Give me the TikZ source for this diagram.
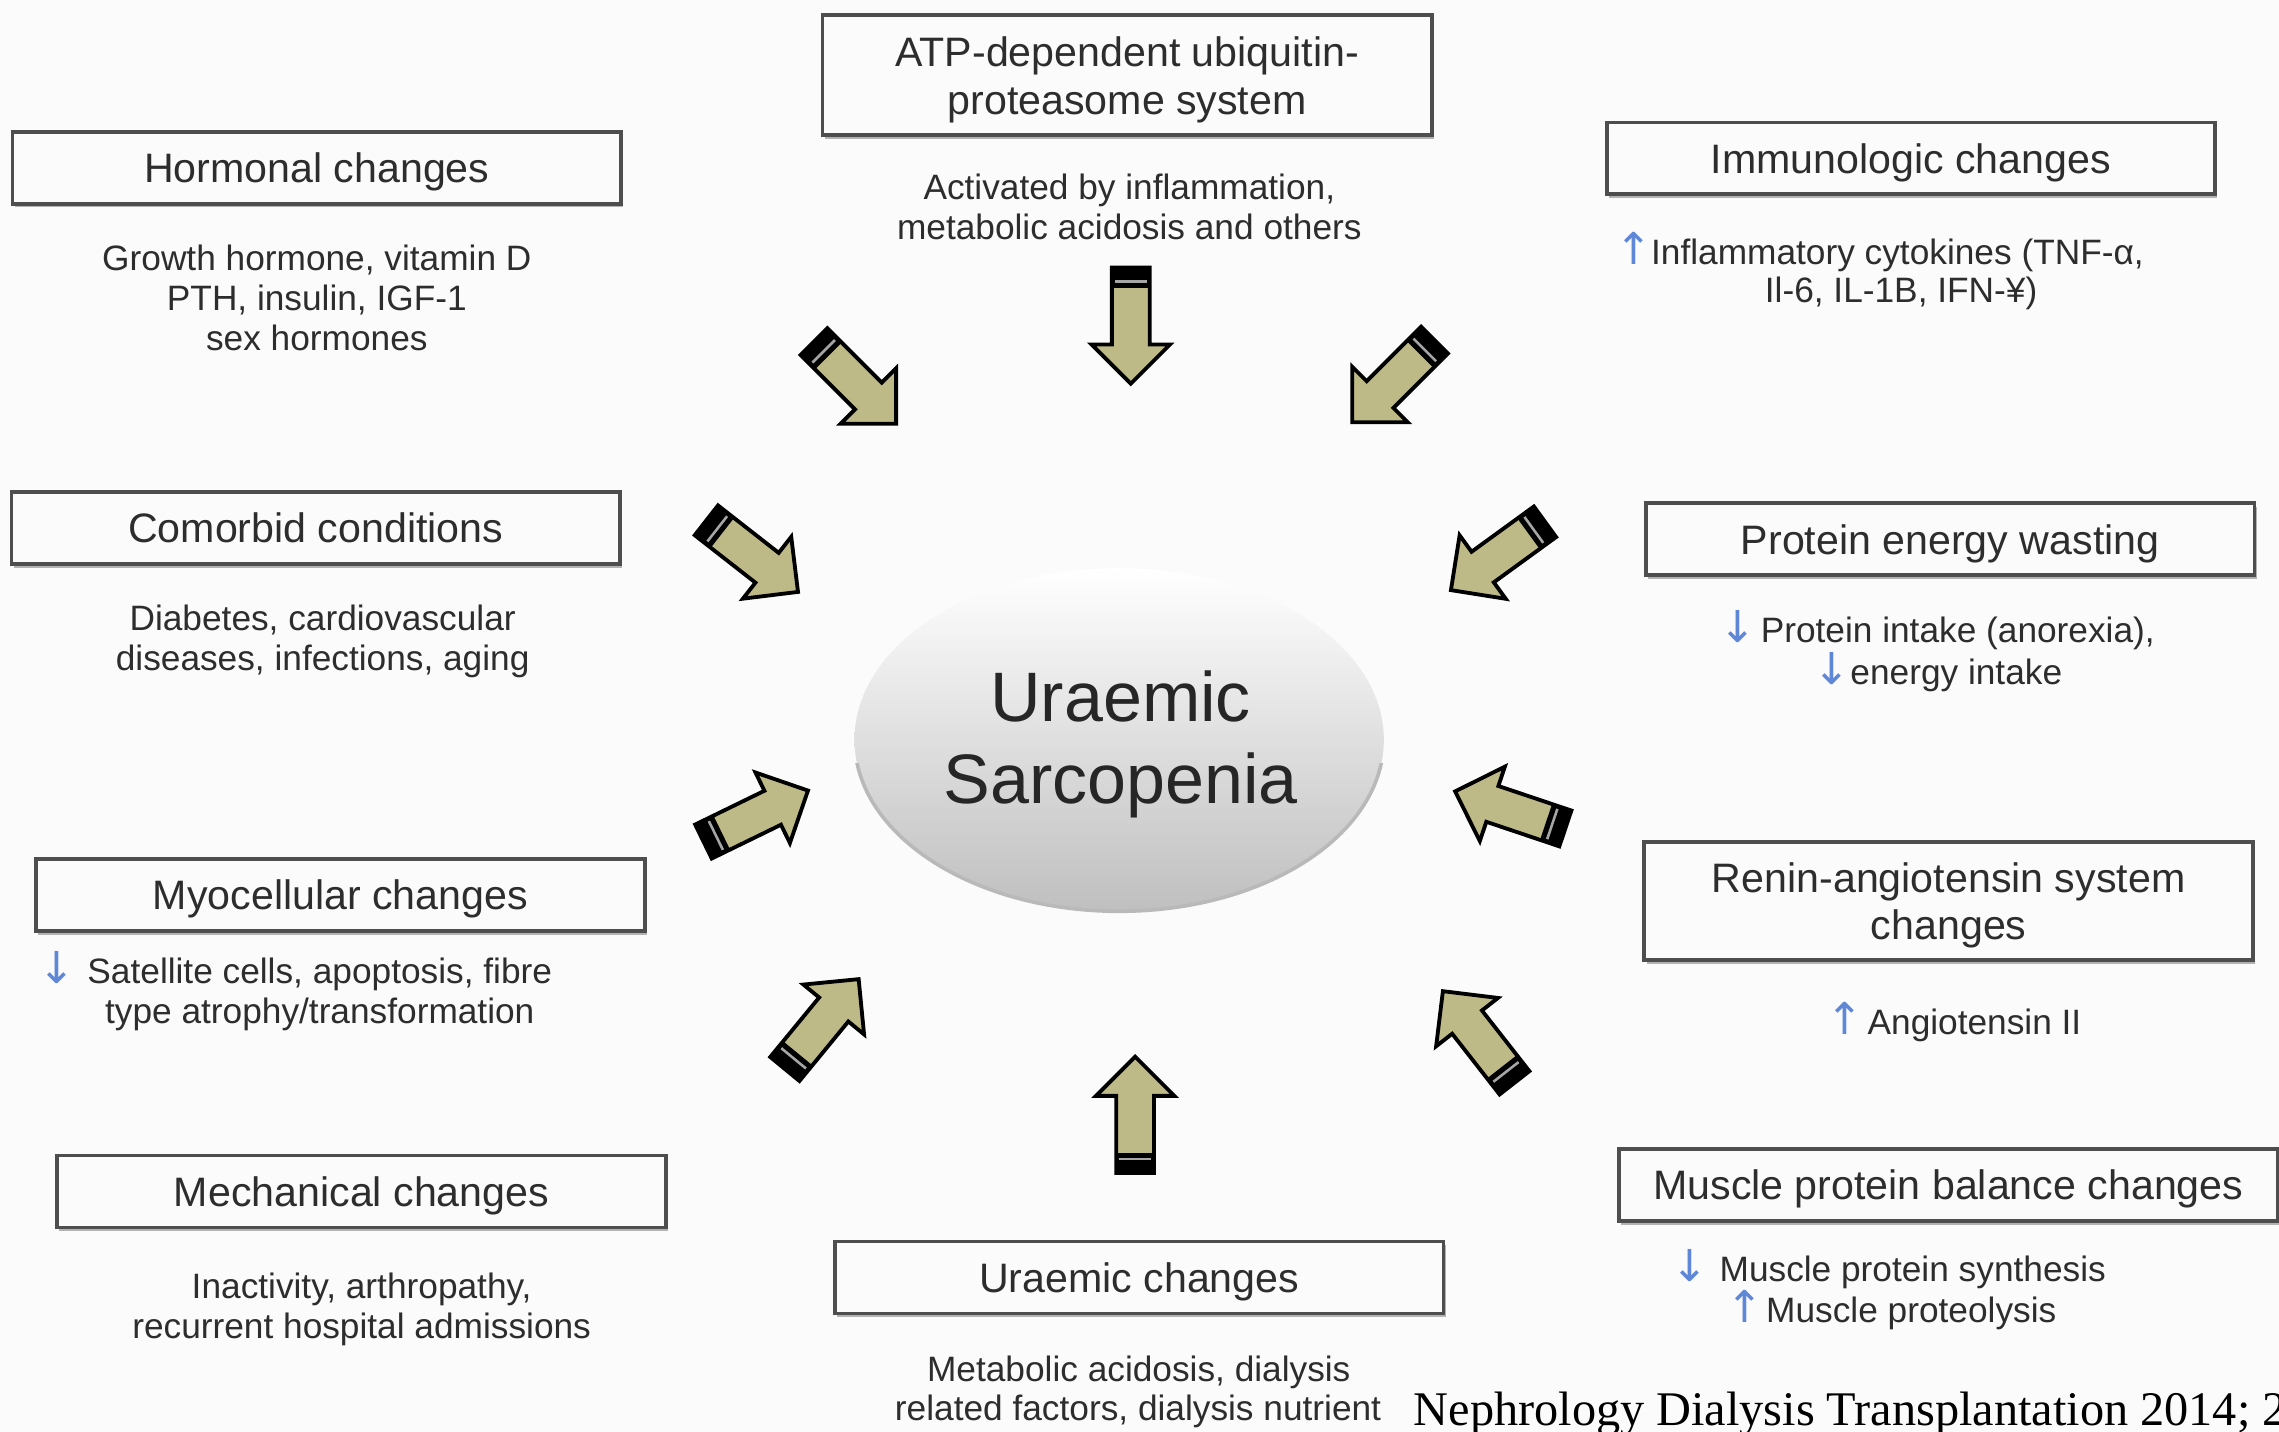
\documentclass[tikz,border=0pt]{standalone}
\usepackage{fontspec}
\setmainfont{Liberation Sans}
\newfontfamily\citefont{Liberation Serif}
\newfontfamily\symfont{DejaVu Sans}
\usetikzlibrary{shapes.geometric,shadows}
\definecolor{bgcol}{RGB}{251,251,252}
\definecolor{khaki}{RGB}{190,186,136}
\definecolor{boxline}{RGB}{78,78,78}
\definecolor{txt}{RGB}{45,45,45}
\definecolor{upblue}{RGB}{95,135,215}
\newcommand{\ttlfont}{\fontsize{8.05}{9.35}\selectfont}
\newcommand{\dscfont}{\fontsize{6.9}{8}\selectfont}
\begin{document}
\begin{tikzpicture}[x=0.01cm, y=-0.01cm,
  box/.style={draw=boxline, line width=0.75pt, fill=bgcol, minimum width=4.185cm,
    minimum height=0.495cm, inner sep=0pt, align=center, font=\ttlfont, text=txt,
    text depth=0pt,
    drop shadow={shadow xshift=0.15mm, shadow yshift=-0.25mm, fill=gray!60, opacity=1}},
  desc/.style={anchor=base, font=\dscfont, text=txt, inner sep=0pt},
  sym/.style={anchor=base, font=\symfont\fontsize{8.6}{9}\selectfont, text=upblue, inner sep=0pt},
  barrow/.pic={
    \fill[khaki] (0,-13) -- (53,-13) -- (53,-27) -- (80,0) -- (53,27) -- (53,13) -- (0,13) -- cycle;
    \fill[black] (0,-13) rectangle (14,13);
    \draw[gray!70, line width=0.5pt] (9.5,-11) -- (9.5,11);
    \draw[black, line width=0.75pt, line join=miter]
      (0,-13) -- (53,-13) -- (53,-27) -- (80,0) -- (53,27) -- (53,13) -- (0,13) -- cycle;
  }]
\useasboundingbox (0,0) rectangle (1568,985);
\fill[bgcol] (0,0) rectangle (1568,985);
\begin{scope}
\clip (0,0) rectangle (1568,985);

% central ellipse
\node[ellipse, minimum width=3.64cm, minimum height=2.36cm, inner sep=0pt,
  top color=white, middle color=gray!12, bottom color=gray!50] (core) at (770,509) {};
\begin{scope}
  \clip (560,525) rectangle (980,640);
  \draw[gray!55, line width=0.7pt] (770,509) ellipse [x radius=182, y radius=118];
\end{scope}
\node[font=\fontsize{13.7}{16}\selectfont, align=center, text=black!85, inner sep=0pt]
  (coretxt) at (771,512) {Uraemic\\Sarcopenia};

% boxes
\node[box] (hormonal) at (218,115.5) {Hormonal changes};
\node[box, minimum width=4.19cm, minimum height=0.825cm] (ups) at (775.5,51.75)
  {ATP-dependent ubiquitin-\\proteasome system};
\node[box] (immuno) at (1314.75,109) {Immunologic changes};
\node[box] (comorbid) at (217.25,363.25) {Comorbid conditions};
\node[box] (pew) at (1341.75,371) {Protein energy wasting};
\node[box] (myo) at (234.25,615.75) {Myocellular changes};
\node[box, minimum height=0.81cm] (ras) at (1340.75,620) {Renin-angiotensin system\\changes};
\node[box] (mech) at (248.75,819.75) {Mechanical changes};
\node[box, minimum width=4.53cm] (mpb) at (1340.5,815.25) {Muscle protein balance changes};
\node[box] (uraemic) at (783.75,879) {Uraemic changes};

% descriptions
\node[desc] (hd1) at (218,186) {Growth hormone, vitamin D};
\node[desc] (hd2) at (218,213.5) {PTH, insulin, IGF-1};
\node[desc] (hd3) at (218,241) {sex hormones};

\node[desc] (ud1) at (777,137) {Activated by inflammation,};
\node[desc] (ud2) at (777,165) {metabolic acidosis and others};

\node[sym] (ia1) at (1124,182) {↑};
\node[desc] (id1) at (1305.5,182) {Inflammatory cytokines (TNF-α,};
\node[desc] (id2) at (1308,208) {Il-6, IL-1B, IFN-¥)};

\node[desc] (cd1) at (222,434) {Diabetes, cardiovascular};
\node[desc] (cd2) at (222,461.5) {diseases, infections, aging};

\node[sym] (pa1) at (1196,442) {↓};
\node[desc] (pd1) at (1347,442) {Protein intake (anorexia),};
\node[sym] (pa2) at (1260.6,471) {↓};
\node[desc] (pd2) at (1346,471) {energy intake};

\node[sym] (ma1) at (39.5,676.5) {↓};
\node[desc] (md1) at (220,676.5) {Satellite cells, apoptosis, fibre};
\node[desc] (md2) at (220,704) {type atrophy/transformation};

\node[sym] (ra1) at (1269,712) {↑};
\node[desc] (rd1) at (1358.5,712) {Angiotensin II};

\node[desc] (ed1) at (248.8,893.5) {Inactivity, arthropathy,};
\node[desc] (ed2) at (248.8,921) {recurrent hospital admissions};

\node[sym] (ba1) at (1163,881.5) {↓};
\node[desc] (bd1) at (1316,881.5) {Muscle protein synthesis};
\node[sym] (ba2) at (1200.6,910) {↑};
\node[desc] (bd2) at (1315,910) {Muscle proteolysis};

\node[desc] (xd1) at (783.5,950.5) {Metabolic acidosis, dialysis};
\node[desc] (xd2) at (783,977.5) {related factors, dialysis nutrient};

% block arrows
\pic[rotate=-45] at (560,235) {barrow};
\pic[rotate=-90] at (778,184) {barrow};
\pic[rotate=-135] at (987,234) {barrow};
\pic[rotate=-38] at (486,358) {barrow};
\pic[rotate=-144] at (1063,359) {barrow};
\pic[rotate=26] at (484,579) {barrow};
\pic[rotate=161.4] at (1077,570) {barrow};
\pic[rotate=50.6] at (540,735.5) {barrow};
\pic[rotate=90] at (781,807) {barrow};
\pic[rotate=128] at (1042,745) {barrow};

% citation (cut at the right and bottom edges)
\node[anchor=base west, inner sep=0pt, font=\citefont\fontsize{9.45}{11}\selectfont, text=black]
  (cite) at (972,981) {Nephrology Dialysis Transplantation 2014; 2};
\end{scope}
\end{tikzpicture}
\end{document}
